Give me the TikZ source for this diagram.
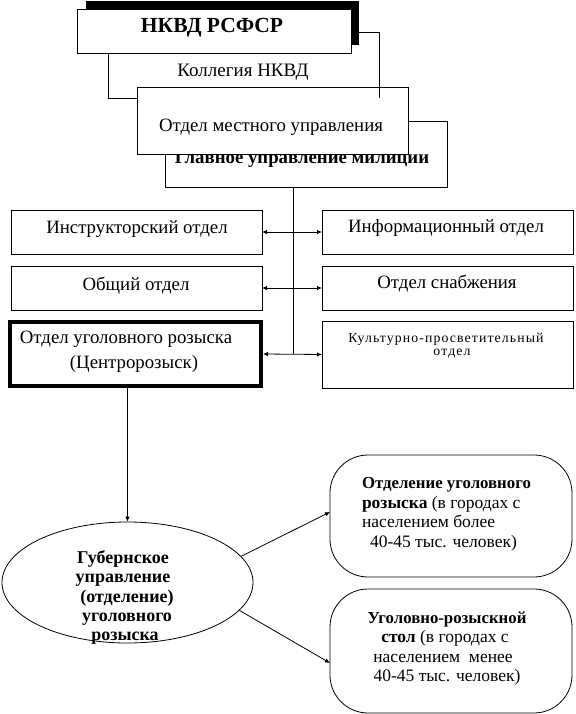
\documentclass[tikz,border=0pt]{standalone}
\usepackage{fontspec}
\setmainfont{Liberation Serif}
\usetikzlibrary{arrows.meta,shapes.geometric}
\begin{document}
\begin{tikzpicture}[x=1pt,y=-1pt,
  box/.style={draw, line width=0.9pt, fill=white, rectangle, inner sep=0pt, outer sep=0pt},
  rbox/.style={box, rounded corners=38pt},
  txt/.style={anchor=base, inner sep=0pt, outer sep=0pt},
  arr/.style={line width=0.8pt, -{Latex[length=5pt,width=4.5pt]}},
  darr/.style={line width=0.8pt, {Latex[length=5pt,width=4.5pt]}-{Latex[length=5pt,width=4.5pt]}},
  ln/.style={line width=0.8pt},
  f19/.style={font=\fontsize{18.8}{21}\selectfont},
  f17/.style={font=\fontsize{17.5}{20}\selectfont},
  b17/.style={font=\fontsize{16.8}{20}\selectfont\bfseries},
  b18/.style={font=\fontsize{18}{20}\selectfont\bfseries},
  ks/.style={font=\fontsize{13.8}{15}\selectfont\addfontfeature{LetterSpace=8}}]
\useasboundingbox (0,0) rectangle (575,714);
% top stack
\node[box, minimum width=282pt, minimum height=66pt] (glav) at (306,154) {};
\node[txt, font=\fontsize{18.8}{21}\selectfont\bfseries] (tglav) at (302,164) {Главное управление милиции};
\node[box, minimum width=271pt, minimum height=66pt] (kol) at (243.5,65) {};
\node[box, minimum width=271pt, minimum height=67pt] (otd) at (272.5,120.5) {};
\draw[line width=0.9pt] (kol.north east) -- (kol.south east);
\node[txt, f19] (totd) at (271,132) {Отдел местного управления};
\node[txt, font=\fontsize{19}{21}\selectfont] (tkol) at (243,77) {Коллегия НКВД};
\node[fill=black, inner sep=0pt, minimum width=273pt, minimum height=44pt] (shadow) at (222.5,23) {};
\node[box, minimum width=274pt, minimum height=44pt] (nkvd) at (214,31) {};
\node[txt, font=\fontsize{21.5}{24}\selectfont\bfseries] (tnkvd) at (212,33) {НКВД РСФСР};
% departments
\node[box, minimum width=251pt, minimum height=44pt] (instr) at (136.5,232) {};
\node[txt, f19] (tinstr) at (137,233) {Инструкторский отдел};
\node[box, minimum width=251pt, minimum height=44pt] (obsh) at (136.5,288) {};
\node[txt, f19] (tobsh) at (136,290) {Общий отдел};
\node[box, line width=4pt, outer sep=2pt, minimum width=251pt, minimum height=64pt] (ugol) at (135.5,354) {};
\node[txt, f19] (tugol1) at (126,343) {Отдел уголовного розыска};
\node[txt, f19] (tugol2) at (134,368) {(Центророзыск)};
\node[box, minimum width=251pt, minimum height=44pt] (info) at (447.5,232) {};
\node[txt, f19] (tinfo) at (446,232) {Информационный отдел};
\node[box, minimum width=251pt, minimum height=44pt] (snab) at (447.5,288) {};
\node[txt, f19] (tsnab) at (447,288) {Отдел снабжения};
\node[box, minimum width=251pt, minimum height=67pt] (kult) at (447.5,354.5) {};
\node[txt, ks] (tkult1) at (446,342) {Культурно-просветительный};
\node[txt, ks] (tkult2) at (452,355) {отдел};
% connectors in the middle
\coordinate (sp) at (293,354);
\draw[ln] (glav.south -| sp) -- (sp);
\draw[darr] (instr.east) -- (info.west);
\draw[darr] (obsh.east) -- (snab.west);
\draw[darr] (ugol.east) -- (kult.west);
% lower part
\node[draw, ellipse, line width=0.8pt, inner sep=0pt, minimum width=251pt, minimum height=121pt] (gub) at (127.5,582.5) {};
\node[txt, b18] (tg1) at (123,563) {Губернское};
\node[txt, b18] (tg2) at (123,582) {управление};
\node[txt, b18] (tg3) at (127,602) {(отделение)};
\node[txt, b18] (tg4) at (127,621) {уголовного};
\node[txt, b18] (tg5) at (125,640) {розыска};
\draw[arr] (gub.north |- ugol.south) -- (gub.north);
\node[rbox, line width=0.8pt, minimum width=242pt, minimum height=122pt] (otdug) at (451,516) {};
\node[rbox, line width=0.8pt, minimum width=242pt, minimum height=124pt] (stol) at (451,651) {};
\draw[arr] (gub.13) -- ([yshift=4pt]otdug.west);
\draw[arr] (gub.-14) -- ([yshift=-12pt]stol.west);
\node[txt, b17, anchor=base west] (to1) at (362,488) {Отделение уголовного};
\node[txt, f17, anchor=base west] (to2) at (362,508) {\textbf{розыска} (в городах с};
\node[txt, f17, anchor=base west] (to3) at (362,527) {населением более};
\node[txt, f17, anchor=base west] (to4) at (370,547) {40-45 тыс. человек)};
\node[txt, b17] (ts1) at (447,623) {Уголовно-розыскной};
\node[txt, f17] (ts2) at (445,642.5) {\textbf{стол} (в городах с};
\node[txt, f17] (ts3) at (443,662) {населением\ \ менее};
\node[txt, f17] (ts4) at (447,681.5) {40-45 тыс. человек)};
\end{tikzpicture}
\end{document}
